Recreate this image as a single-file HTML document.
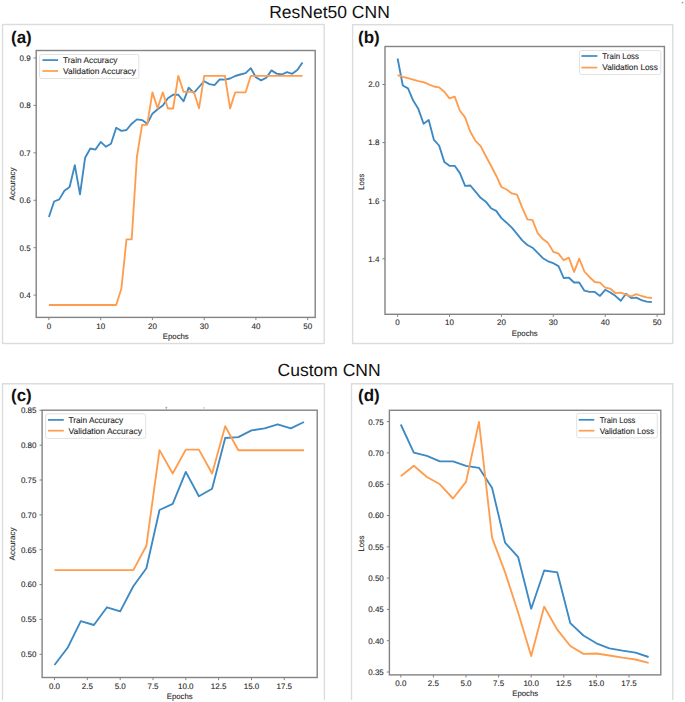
<!DOCTYPE html>
<html><head><meta charset="utf-8"><title>ResNet50 CNN vs Custom CNN</title>
<style>
html,body{margin:0;padding:0;background:#fff;}
body{width:685px;height:702px;overflow:hidden;}
svg{display:block;font-family:"Liberation Sans",sans-serif;text-rendering:geometricPrecision;}
.tk{font-size:8px;fill:#262626;stroke:#262626;stroke-width:0.1px;}
.lg{font-size:8.3px;fill:#262626;stroke:#262626;stroke-width:0.1px;}
.lb{font-size:8px;fill:#262626;stroke:#262626;stroke-width:0.1px;}
.ti{font-size:17.5px;fill:#111;}
.pl{font-size:17px;font-weight:bold;fill:#111;}
</style></head>
<body>
<svg width="685" height="702" viewBox="0 0 685 702">
<rect width="685" height="702" fill="#fff"/>
<rect x="2.5" y="24.5" width="321.7" height="319" fill="none" stroke="#dcdcdc" stroke-width="1.4"/>
<rect x="352.6" y="24.7" width="320.2" height="318.8" fill="none" stroke="#dcdcdc" stroke-width="1.4"/>
<path d="M2.5,700 V383.8 H324.4 V700" fill="none" stroke="#dcdcdc" stroke-width="1.4"/>
<path d="M351.5,700 V383.8 H672.8 V700" fill="none" stroke="#dcdcdc" stroke-width="1.4"/>
<text x="329.5" y="18" class="ti" text-anchor="middle">ResNet50 CNN</text>
<text x="329.1" y="376.4" class="ti" text-anchor="middle">Custom CNN</text>
<text x="11" y="43" class="pl">(a)</text>
<text x="358" y="43" class="pl">(b)</text>
<text x="11" y="400.5" class="pl">(c)</text>
<text x="358" y="400.5" class="pl">(d)</text>
<rect x="36.2" y="50.5" width="279.0" height="266.9" fill="none" stroke="#838383" stroke-width="1.4"/>
<line x1="48.9" y1="317.5" x2="48.9" y2="320.1" stroke="#838383" stroke-width="1"/>
<text x="48.9" y="328.6" class="tk" text-anchor="middle">0</text>
<line x1="100.7" y1="317.5" x2="100.7" y2="320.1" stroke="#838383" stroke-width="1"/>
<text x="100.7" y="328.6" class="tk" text-anchor="middle">10</text>
<line x1="152.4" y1="317.5" x2="152.4" y2="320.1" stroke="#838383" stroke-width="1"/>
<text x="152.4" y="328.6" class="tk" text-anchor="middle">20</text>
<line x1="204.2" y1="317.5" x2="204.2" y2="320.1" stroke="#838383" stroke-width="1"/>
<text x="204.2" y="328.6" class="tk" text-anchor="middle">30</text>
<line x1="255.9" y1="317.5" x2="255.9" y2="320.1" stroke="#838383" stroke-width="1"/>
<text x="255.9" y="328.6" class="tk" text-anchor="middle">40</text>
<line x1="307.7" y1="317.5" x2="307.7" y2="320.1" stroke="#838383" stroke-width="1"/>
<text x="307.7" y="328.6" class="tk" text-anchor="middle">50</text>
<line x1="33.6" y1="295.1" x2="36.2" y2="295.1" stroke="#838383" stroke-width="1"/>
<text x="30.6" y="298.0" class="tk" text-anchor="end">0.4</text>
<line x1="33.6" y1="247.7" x2="36.2" y2="247.7" stroke="#838383" stroke-width="1"/>
<text x="30.6" y="250.5" class="tk" text-anchor="end">0.5</text>
<line x1="33.6" y1="200.3" x2="36.2" y2="200.3" stroke="#838383" stroke-width="1"/>
<text x="30.6" y="203.1" class="tk" text-anchor="end">0.6</text>
<line x1="33.6" y1="152.8" x2="36.2" y2="152.8" stroke="#838383" stroke-width="1"/>
<text x="30.6" y="155.7" class="tk" text-anchor="end">0.7</text>
<line x1="33.6" y1="105.4" x2="36.2" y2="105.4" stroke="#838383" stroke-width="1"/>
<text x="30.6" y="108.3" class="tk" text-anchor="end">0.8</text>
<line x1="33.6" y1="58.0" x2="36.2" y2="58.0" stroke="#838383" stroke-width="1"/>
<text x="30.6" y="60.9" class="tk" text-anchor="end">0.9</text>
<text x="175.8" y="338.6" class="lb" text-anchor="middle" textLength="25.9" lengthAdjust="spacingAndGlyphs">Epochs</text>
<text transform="translate(14.6,184) rotate(-90)" class="lb" text-anchor="middle">Accuracy</text>
<polyline points="48.9,217.0 54.1,201.5 59.3,199.4 64.4,190.7 69.6,187.0 74.8,165.2 80.0,194.4 85.1,157.8 90.3,148.5 95.5,149.6 100.7,141.9 105.8,146.7 111.0,143.7 116.2,127.8 121.4,130.9 126.5,130.0 131.7,123.7 136.9,119.4 142.1,120.1 147.2,123.8 152.4,113.7 157.6,109.3 162.8,105.5 167.9,98.2 173.1,94.7 178.3,94.7 183.5,101.3 188.7,87.7 193.8,92.8 199.0,87.0 204.2,81.2 209.4,84.1 214.5,85.1 219.7,79.4 224.9,79.6 230.1,78.5 235.2,76.0 240.4,74.5 245.6,73.1 250.8,68.2 255.9,77.3 261.1,80.4 266.3,77.7 271.5,70.4 276.6,73.6 281.8,74.5 287.0,72.2 292.2,73.8 297.3,70.1 302.5,62.4" fill="none" stroke="#3d89c4" stroke-width="1.85" stroke-linejoin="round"/>
<polyline points="48.9,305.0 54.1,305.0 59.3,305.0 64.4,305.0 69.6,305.0 74.8,305.0 80.0,305.0 85.1,305.0 90.3,305.0 95.5,305.0 100.7,305.0 105.8,305.0 111.0,305.0 116.2,305.0 121.4,288.5 126.5,239.4 131.7,239.4 136.9,157.0 142.1,124.8 147.2,124.8 152.4,92.4 157.6,108.3 162.8,92.4 167.9,108.5 173.1,108.5 178.3,75.8 183.5,91.8 188.7,91.8 193.8,91.8 199.0,108.3 204.2,75.8 209.4,75.8 214.5,75.8 219.7,75.8 224.9,75.8 230.1,108.4 235.2,92.3 240.4,92.3 245.6,92.3 250.8,75.8 255.9,75.8 261.1,75.8 266.3,75.8 271.5,75.8 276.6,75.8 281.8,75.8 287.0,75.8 292.2,75.8 297.3,75.8 302.5,75.8" fill="none" stroke="#ff9d4e" stroke-width="1.85" stroke-linejoin="round"/>
<rect x="39.6" y="54.5" width="99.20000000000002" height="24.0" rx="2" fill="#fff" stroke="#e2e2e2" stroke-width="1"/>
<line x1="42.4" y1="60.1" x2="58.1" y2="60.1" stroke="#3d89c4" stroke-width="1.7"/>
<line x1="42.4" y1="71.0" x2="58.1" y2="71.0" stroke="#ff9d4e" stroke-width="1.7"/>
<text x="63.1" y="62.9" class="lg" textLength="54.4" lengthAdjust="spacingAndGlyphs">Train Accuracy</text>
<text x="63.1" y="73.8" class="lg" textLength="72.9" lengthAdjust="spacingAndGlyphs">Validation Accuracy</text>
<rect x="385" y="46.5" width="279.4" height="267.8" fill="none" stroke="#838383" stroke-width="1.4"/>
<line x1="397.6" y1="314.3" x2="397.6" y2="316.90000000000003" stroke="#838383" stroke-width="1"/>
<text x="397.6" y="325.3" class="tk" text-anchor="middle">0</text>
<line x1="449.5" y1="314.3" x2="449.5" y2="316.90000000000003" stroke="#838383" stroke-width="1"/>
<text x="449.5" y="325.3" class="tk" text-anchor="middle">10</text>
<line x1="501.4" y1="314.3" x2="501.4" y2="316.90000000000003" stroke="#838383" stroke-width="1"/>
<text x="501.4" y="325.3" class="tk" text-anchor="middle">20</text>
<line x1="553.3" y1="314.3" x2="553.3" y2="316.90000000000003" stroke="#838383" stroke-width="1"/>
<text x="553.3" y="325.3" class="tk" text-anchor="middle">30</text>
<line x1="605.2" y1="314.3" x2="605.2" y2="316.90000000000003" stroke="#838383" stroke-width="1"/>
<text x="605.2" y="325.3" class="tk" text-anchor="middle">40</text>
<line x1="657.1" y1="314.3" x2="657.1" y2="316.90000000000003" stroke="#838383" stroke-width="1"/>
<text x="657.1" y="325.3" class="tk" text-anchor="middle">50</text>
<line x1="382.4" y1="258.8" x2="385" y2="258.8" stroke="#838383" stroke-width="1"/>
<text x="379.4" y="261.7" class="tk" text-anchor="end">1.4</text>
<line x1="382.4" y1="200.7" x2="385" y2="200.7" stroke="#838383" stroke-width="1"/>
<text x="379.4" y="203.5" class="tk" text-anchor="end">1.6</text>
<line x1="382.4" y1="142.6" x2="385" y2="142.6" stroke="#838383" stroke-width="1"/>
<text x="379.4" y="145.4" class="tk" text-anchor="end">1.8</text>
<line x1="382.4" y1="84.5" x2="385" y2="84.5" stroke="#838383" stroke-width="1"/>
<text x="379.4" y="87.3" class="tk" text-anchor="end">2.0</text>
<text x="524.8" y="335.8" class="lb" text-anchor="middle" textLength="25.9" lengthAdjust="spacingAndGlyphs">Epochs</text>
<text transform="translate(364,181.7) rotate(-90)" class="lb" text-anchor="middle" textLength="16" lengthAdjust="spacingAndGlyphs">Loss</text>
<polyline points="397.6,58.5 402.8,85.5 408.0,88.4 413.2,100.6 418.4,109.1 423.6,123.8 428.7,120.1 433.9,139.8 439.1,145.5 444.3,161.9 449.5,165.8 454.7,165.8 459.9,173.1 465.1,185.8 470.3,185.5 475.5,191.6 480.6,197.8 485.8,201.7 491.0,208.2 496.2,210.9 501.4,218.1 506.6,222.7 511.8,227.6 517.0,233.9 522.2,240.4 527.4,245.0 532.5,247.7 537.7,252.9 542.9,258.2 548.1,261.3 553.3,263.2 558.5,266.1 563.7,278.0 568.9,277.7 574.1,282.5 579.2,282.4 584.4,290.7 589.6,291.9 594.8,291.9 600.0,295.9 605.2,289.8 610.4,292.5 615.6,296.1 620.8,300.8 626.0,293.7 631.2,298.1 636.3,297.7 641.5,300.2 646.7,301.7 651.9,302.1" fill="none" stroke="#3d89c4" stroke-width="1.85" stroke-linejoin="round"/>
<polyline points="397.6,75.2 402.8,76.9 408.0,78.2 413.2,79.6 418.4,81.1 423.6,82.2 428.7,84.4 433.9,86.5 439.1,87.4 444.3,91.8 449.5,98.4 454.7,96.6 459.9,110.7 465.1,117.4 470.3,131.7 475.5,140.9 480.6,146.1 485.8,156.0 491.0,165.8 496.2,175.7 501.4,187.0 506.6,189.5 511.8,193.4 517.0,194.7 522.2,207.6 527.4,219.4 532.5,220.1 537.7,233.2 542.9,239.1 548.1,243.1 553.3,251.8 558.5,253.6 563.7,260.2 568.9,257.6 574.1,272.0 579.2,258.6 584.4,271.5 589.6,277.2 594.8,282.0 600.0,282.6 605.2,287.6 610.4,288.7 615.6,293.2 620.8,292.7 626.0,294.6 631.2,296.3 636.3,294.1 641.5,296.0 646.7,297.4 651.9,298.0" fill="none" stroke="#ff9d4e" stroke-width="1.85" stroke-linejoin="round"/>
<rect x="579.5" y="50.5" width="81.29999999999995" height="24.0" rx="2" fill="#fff" stroke="#e2e2e2" stroke-width="1"/>
<line x1="581.4" y1="56.0" x2="597.4" y2="56.0" stroke="#3d89c4" stroke-width="1.7"/>
<line x1="581.4" y1="67.6" x2="597.4" y2="67.6" stroke="#ff9d4e" stroke-width="1.7"/>
<text x="602.3" y="58.8" class="lg" textLength="36.7" lengthAdjust="spacingAndGlyphs">Train Loss</text>
<text x="602.3" y="70.39999999999999" class="lg" textLength="55.6" lengthAdjust="spacingAndGlyphs">Validation Loss</text>
<rect x="42.1" y="410.2" width="275.09999999999997" height="267.3" fill="none" stroke="#838383" stroke-width="1.4"/>
<line x1="54.5" y1="677.5" x2="54.5" y2="680.1" stroke="#838383" stroke-width="1"/>
<text x="54.5" y="688.6" class="tk" text-anchor="middle">0.0</text>
<line x1="87.3" y1="677.5" x2="87.3" y2="680.1" stroke="#838383" stroke-width="1"/>
<text x="87.3" y="688.6" class="tk" text-anchor="middle">2.5</text>
<line x1="120.2" y1="677.5" x2="120.2" y2="680.1" stroke="#838383" stroke-width="1"/>
<text x="120.2" y="688.6" class="tk" text-anchor="middle">5.0</text>
<line x1="153.0" y1="677.5" x2="153.0" y2="680.1" stroke="#838383" stroke-width="1"/>
<text x="153.0" y="688.6" class="tk" text-anchor="middle">7.5</text>
<line x1="185.8" y1="677.5" x2="185.8" y2="680.1" stroke="#838383" stroke-width="1"/>
<text x="185.8" y="688.6" class="tk" text-anchor="middle">10.0</text>
<line x1="218.6" y1="677.5" x2="218.6" y2="680.1" stroke="#838383" stroke-width="1"/>
<text x="218.6" y="688.6" class="tk" text-anchor="middle">12.5</text>
<line x1="251.5" y1="677.5" x2="251.5" y2="680.1" stroke="#838383" stroke-width="1"/>
<text x="251.5" y="688.6" class="tk" text-anchor="middle">15.0</text>
<line x1="284.3" y1="677.5" x2="284.3" y2="680.1" stroke="#838383" stroke-width="1"/>
<text x="284.3" y="688.6" class="tk" text-anchor="middle">17.5</text>
<line x1="39.5" y1="654.3" x2="42.1" y2="654.3" stroke="#838383" stroke-width="1"/>
<text x="36.5" y="657.1" class="tk" text-anchor="end">0.50</text>
<line x1="39.5" y1="619.4" x2="42.1" y2="619.4" stroke="#838383" stroke-width="1"/>
<text x="36.5" y="622.3" class="tk" text-anchor="end">0.55</text>
<line x1="39.5" y1="584.6" x2="42.1" y2="584.6" stroke="#838383" stroke-width="1"/>
<text x="36.5" y="587.4" class="tk" text-anchor="end">0.60</text>
<line x1="39.5" y1="549.7" x2="42.1" y2="549.7" stroke="#838383" stroke-width="1"/>
<text x="36.5" y="552.6" class="tk" text-anchor="end">0.65</text>
<line x1="39.5" y1="514.9" x2="42.1" y2="514.9" stroke="#838383" stroke-width="1"/>
<text x="36.5" y="517.7" class="tk" text-anchor="end">0.70</text>
<line x1="39.5" y1="480.0" x2="42.1" y2="480.0" stroke="#838383" stroke-width="1"/>
<text x="36.5" y="482.9" class="tk" text-anchor="end">0.75</text>
<line x1="39.5" y1="445.2" x2="42.1" y2="445.2" stroke="#838383" stroke-width="1"/>
<text x="36.5" y="448.0" class="tk" text-anchor="end">0.80</text>
<line x1="39.5" y1="410.3" x2="42.1" y2="410.3" stroke="#838383" stroke-width="1"/>
<text x="36.5" y="413.2" class="tk" text-anchor="end">0.85</text>
<text x="179.7" y="698.5" class="lb" text-anchor="middle" textLength="25.9" lengthAdjust="spacingAndGlyphs">Epochs</text>
<text transform="translate(15.3,544) rotate(-90)" class="lb" text-anchor="middle">Accuracy</text>
<polyline points="54.5,665.0 67.6,647.8 80.8,621.1 93.9,625.0 107.0,607.3 120.2,611.4 133.3,586.3 146.4,568.2 159.5,510.0 172.7,503.8 185.8,471.9 198.9,496.3 212.1,488.8 225.2,438.0 238.3,437.1 251.5,430.4 264.6,428.4 277.7,424.3 290.8,428.4 304.0,422.0" fill="none" stroke="#3d89c4" stroke-width="1.85" stroke-linejoin="round"/>
<polyline points="54.5,570.1 67.6,570.1 80.8,570.1 93.9,570.1 107.0,570.1 120.2,570.1 133.3,570.1 146.4,545.7 159.5,450.1 172.7,473.5 185.8,449.6 198.9,449.6 212.1,473.5 225.2,426.2 238.3,450.2 251.5,450.2 264.6,450.2 277.7,450.2 290.8,450.2 304.0,450.2" fill="none" stroke="#ff9d4e" stroke-width="1.85" stroke-linejoin="round"/>
<rect x="45.6" y="413.8" width="100.1" height="24.599999999999966" rx="2" fill="#fff" stroke="#e2e2e2" stroke-width="1"/>
<line x1="48.0" y1="419.9" x2="63.8" y2="419.9" stroke="#3d89c4" stroke-width="1.7"/>
<line x1="48.0" y1="430.7" x2="63.8" y2="430.7" stroke="#ff9d4e" stroke-width="1.7"/>
<text x="68.4" y="422.7" class="lg" textLength="54.7" lengthAdjust="spacingAndGlyphs">Train Accuracy</text>
<text x="68.4" y="433.5" class="lg" textLength="73.5" lengthAdjust="spacingAndGlyphs">Validation Accuracy</text>
<path d="M165.3,407.4 H167.3 M166.3,407.4 V409.5" stroke="#999" stroke-width="0.8" fill="none"/>
<path d="M203.2,407.6 H204.8 M204,407.6 V409.5" stroke="#bbb" stroke-width="0.6" fill="none"/>
<circle cx="682.5" cy="2.6" r="0.9" fill="#999"/>
<rect x="389.4" y="410.3" width="271.4" height="264.59999999999997" fill="none" stroke="#838383" stroke-width="1.4"/>
<line x1="400.8" y1="674.9" x2="400.8" y2="677.5" stroke="#838383" stroke-width="1"/>
<text x="400.8" y="685.8" class="tk" text-anchor="middle">0.0</text>
<line x1="433.4" y1="674.9" x2="433.4" y2="677.5" stroke="#838383" stroke-width="1"/>
<text x="433.4" y="685.8" class="tk" text-anchor="middle">2.5</text>
<line x1="466.0" y1="674.9" x2="466.0" y2="677.5" stroke="#838383" stroke-width="1"/>
<text x="466.0" y="685.8" class="tk" text-anchor="middle">5.0</text>
<line x1="498.6" y1="674.9" x2="498.6" y2="677.5" stroke="#838383" stroke-width="1"/>
<text x="498.6" y="685.8" class="tk" text-anchor="middle">7.5</text>
<line x1="531.2" y1="674.9" x2="531.2" y2="677.5" stroke="#838383" stroke-width="1"/>
<text x="531.2" y="685.8" class="tk" text-anchor="middle">10.0</text>
<line x1="563.8" y1="674.9" x2="563.8" y2="677.5" stroke="#838383" stroke-width="1"/>
<text x="563.8" y="685.8" class="tk" text-anchor="middle">12.5</text>
<line x1="596.4" y1="674.9" x2="596.4" y2="677.5" stroke="#838383" stroke-width="1"/>
<text x="596.4" y="685.8" class="tk" text-anchor="middle">15.0</text>
<line x1="629.0" y1="674.9" x2="629.0" y2="677.5" stroke="#838383" stroke-width="1"/>
<text x="629.0" y="685.8" class="tk" text-anchor="middle">17.5</text>
<line x1="386.79999999999995" y1="672.0" x2="389.4" y2="672.0" stroke="#838383" stroke-width="1"/>
<text x="383.8" y="674.9" class="tk" text-anchor="end">0.35</text>
<line x1="386.79999999999995" y1="640.7" x2="389.4" y2="640.7" stroke="#838383" stroke-width="1"/>
<text x="383.8" y="643.6" class="tk" text-anchor="end">0.40</text>
<line x1="386.79999999999995" y1="609.4" x2="389.4" y2="609.4" stroke="#838383" stroke-width="1"/>
<text x="383.8" y="612.2" class="tk" text-anchor="end">0.45</text>
<line x1="386.79999999999995" y1="578.1" x2="389.4" y2="578.1" stroke="#838383" stroke-width="1"/>
<text x="383.8" y="581.0" class="tk" text-anchor="end">0.50</text>
<line x1="386.79999999999995" y1="546.8" x2="389.4" y2="546.8" stroke="#838383" stroke-width="1"/>
<text x="383.8" y="549.6" class="tk" text-anchor="end">0.55</text>
<line x1="386.79999999999995" y1="515.5" x2="389.4" y2="515.5" stroke="#838383" stroke-width="1"/>
<text x="383.8" y="518.4" class="tk" text-anchor="end">0.60</text>
<line x1="386.79999999999995" y1="484.2" x2="389.4" y2="484.2" stroke="#838383" stroke-width="1"/>
<text x="383.8" y="487.1" class="tk" text-anchor="end">0.65</text>
<line x1="386.79999999999995" y1="452.9" x2="389.4" y2="452.9" stroke="#838383" stroke-width="1"/>
<text x="383.8" y="455.8" class="tk" text-anchor="end">0.70</text>
<line x1="386.79999999999995" y1="421.6" x2="389.4" y2="421.6" stroke="#838383" stroke-width="1"/>
<text x="383.8" y="424.5" class="tk" text-anchor="end">0.75</text>
<text x="525.2" y="695.6" class="lb" text-anchor="middle" textLength="25.9" lengthAdjust="spacingAndGlyphs">Epochs</text>
<text transform="translate(363.8,543.5) rotate(-90)" class="lb" text-anchor="middle" textLength="16" lengthAdjust="spacingAndGlyphs">Loss</text>
<polyline points="400.8,424.5 413.8,452.7 426.9,455.9 439.9,461.4 453.0,461.3 466.0,465.8 479.0,467.8 492.1,488.0 505.1,542.7 518.2,557.2 531.2,608.7 544.2,570.5 557.3,572.4 570.3,623.2 583.4,635.5 596.4,643.3 609.4,648.3 622.5,650.7 635.5,652.6 648.6,657.0" fill="none" stroke="#3d89c4" stroke-width="1.85" stroke-linejoin="round"/>
<polyline points="400.8,476.3 413.8,465.8 426.9,477.0 439.9,484.3 453.0,498.5 466.0,481.9 479.0,422.0 492.1,537.8 505.1,572.4 518.2,612.7 531.2,656.0 544.2,606.6 557.3,629.7 570.3,646.0 583.4,653.9 596.4,653.5 609.4,655.5 622.5,657.7 635.5,659.5 648.6,662.8" fill="none" stroke="#ff9d4e" stroke-width="1.85" stroke-linejoin="round"/>
<rect x="576.7" y="413.4" width="80.59999999999991" height="24.400000000000034" rx="2" fill="#fff" stroke="#e2e2e2" stroke-width="1"/>
<line x1="578.7" y1="419.8" x2="594.3" y2="419.8" stroke="#3d89c4" stroke-width="1.7"/>
<line x1="578.7" y1="430.7" x2="594.3" y2="430.7" stroke="#ff9d4e" stroke-width="1.7"/>
<text x="599.7" y="422.6" class="lg" textLength="35.8" lengthAdjust="spacingAndGlyphs">Train Loss</text>
<text x="599.7" y="433.5" class="lg" textLength="54.3" lengthAdjust="spacingAndGlyphs">Validation Loss</text>
</svg>
</body></html>
